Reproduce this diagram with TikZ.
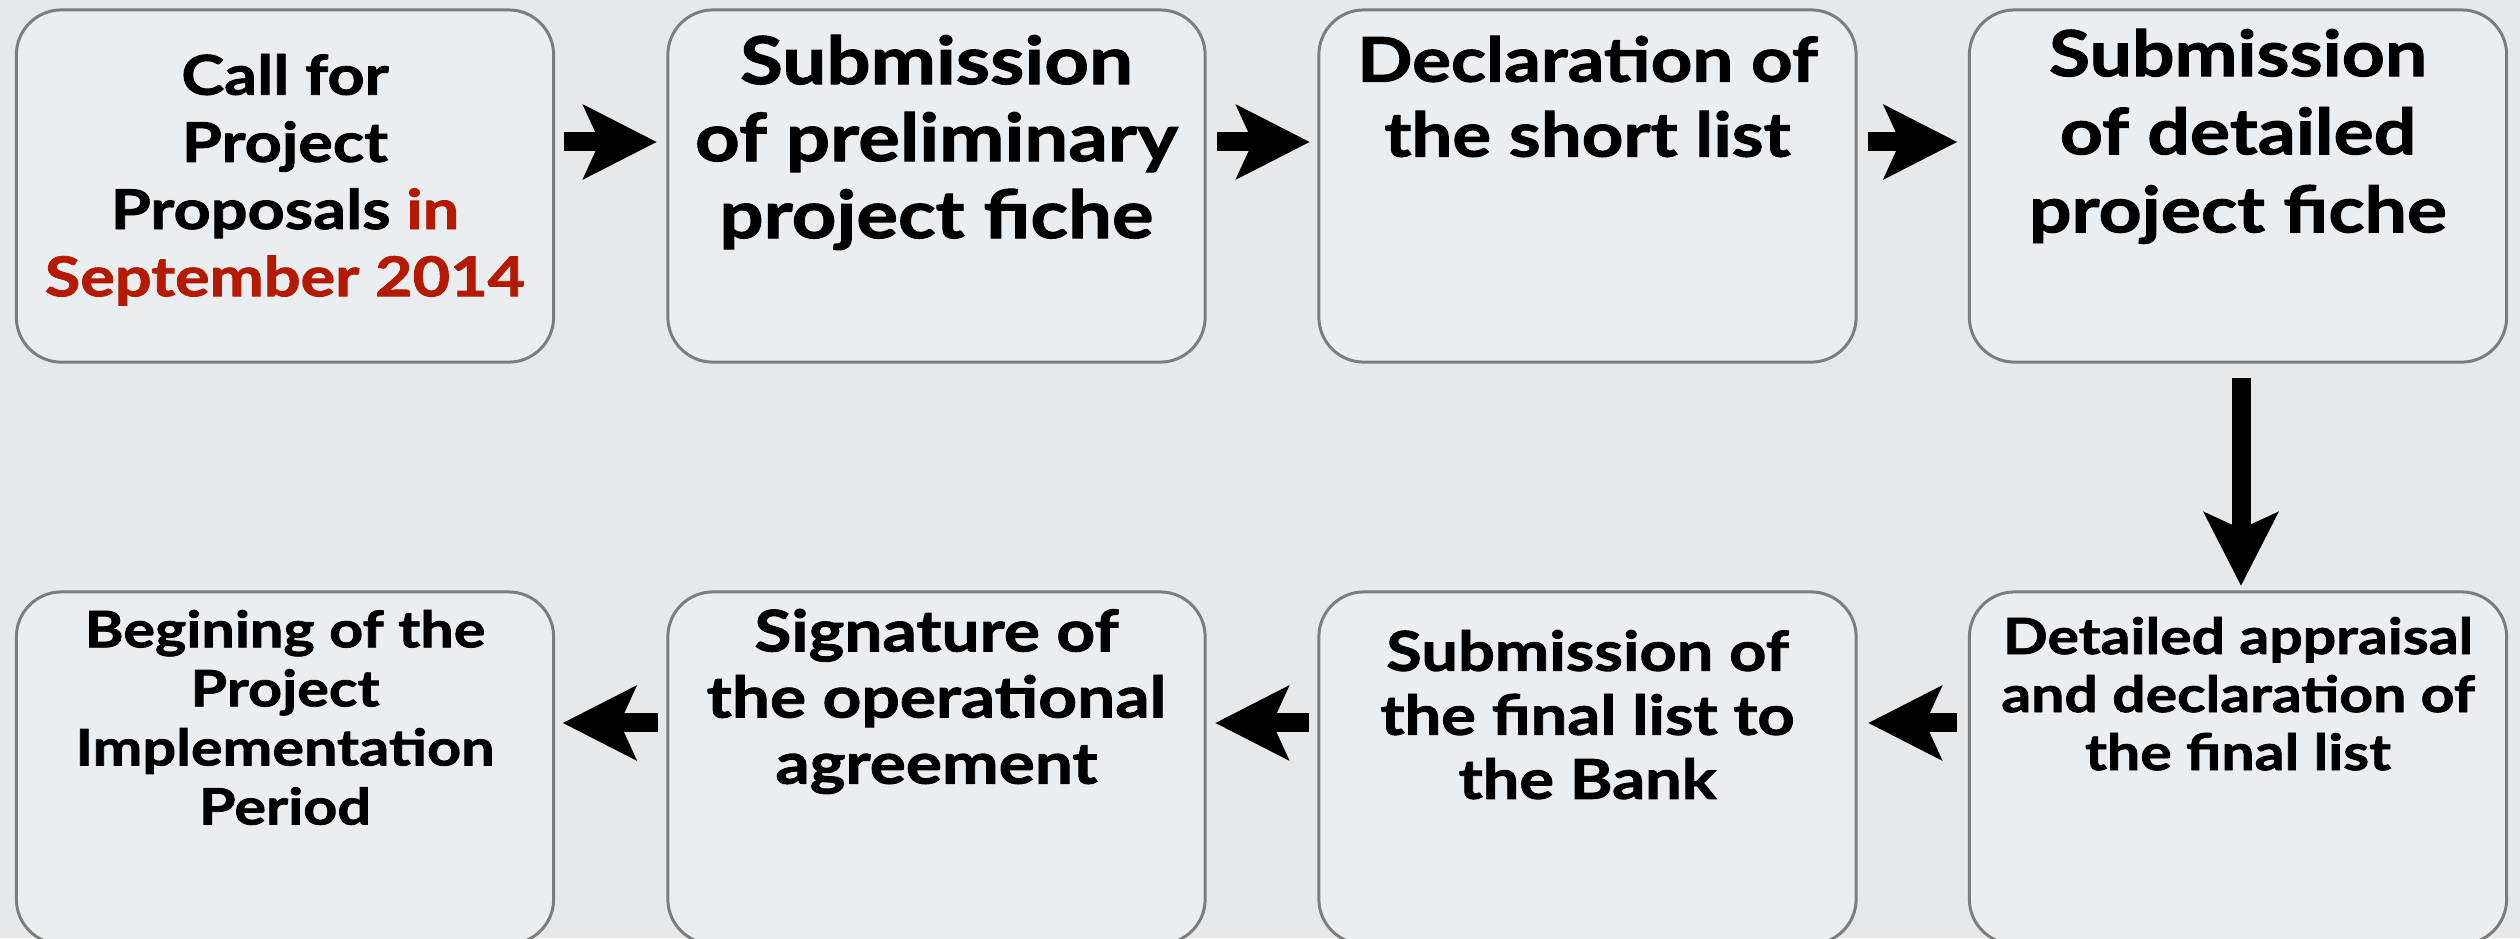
\documentclass[tikz,border=0pt]{standalone}
\usepackage{fontspec}
\setmainfont{Lato}[BoldFeatures={FakeStretch=1.18,FakeBold=1.5}]
\usetikzlibrary{arrows.meta}
\definecolor{bg}{HTML}{E7E8EA}
\definecolor{boxfill}{HTML}{EBEEF1}
\definecolor{boxline}{HTML}{7D7D7D}
\definecolor{accent}{HTML}{B31A00}
\newcommand{\boxtext}[4]{\parbox[c][3.52cm][t]{5.37cm}{\centering\fontsize{#1}{#2}\selectfont\bfseries\vspace*{#3}#4\par}}
\tikzset{
  stepbox/.style={draw=boxline, fill=boxfill, line width=0.03cm, rounded corners=0.45cm,
    minimum width=5.37cm, minimum height=3.52cm, inner sep=0pt, outer sep=0pt},
  flow/.style={line width=0.19cm, -{Stealth[length=0.73cm, width=0.73cm, inset=0.16cm]}},
}
\begin{document}
\begin{tikzpicture}[x=0.01cm, y=-0.01cm]
\useasboundingbox (0,0) rectangle (2520,938);
\fill[bg] (0,0) rectangle (2520,938);
% top row
\node[stepbox] (b1) at (285,186) {\boxtext{15.6pt}{19.1pt}{0.44cm}{Call for\\Project\\Proposals \textcolor{accent}{in}\\\textcolor{accent}{\addfontfeatures{FakeStretch=1.06}September 2014}}};
\node[stepbox] (b2) at (936.5,186) {\boxtext{18.8pt}{21.9pt}{0.25cm}{Submission\\of preliminary\\project fiche}};
\node[stepbox] (b3) at (1587.5,186) {\boxtext{17.5pt}{21.3pt}{0.26cm}{Declaration of\\the short list}};
\node[stepbox] (b4) at (2238,186) {\boxtext{18.1pt}{22.2pt}{0.19cm}{Submission\\of detailed\\project fiche}};
% bottom row
\node[stepbox] (b8) at (2238,768) {\boxtext{14.2pt}{16.5pt}{0.25cm}{Detailed appraisal\\and declaration of\\the final list}};
\node[stepbox] (b7) at (1587.5,768) {\boxtext{15.65pt}{18.2pt}{0.38cm}{Submission of\\the final list to\\the Bank}};
\node[stepbox] (b6) at (936.5,768) {\boxtext{16.3pt}{18.8pt}{0.17cm}{Signature of\\the operational\\agreement}};
\node[stepbox] (b5) at (285,768) {\boxtext{14.3pt}{16.8pt}{0.18cm}{Begining of the\\Project\\Implementation\\Period}};
% connectors
\draw[flow, shorten <=0.10cm, shorten >=0.11cm] ([yshift=-1.32cm]b1.north east) -- ([yshift=-1.32cm]b2.north west);
\draw[flow, shorten <=0.12cm, shorten >=0.09cm] ([yshift=-1.32cm]b2.north east) -- ([yshift=-1.32cm]b3.north west);
\draw[flow, shorten <=0.12cm, shorten >=0.12cm] ([yshift=-1.32cm]b3.north east) -- ([yshift=-1.32cm]b4.north west);
\draw[flow, shorten <=0.16cm, shorten >=0.06cm] ([xshift=0.03cm]b4.south) -- ([xshift=0.03cm]b8.north);
\draw[flow, shorten <=0.12cm, shorten >=0.12cm] ([yshift=-1.31cm]b8.north west) -- ([yshift=-1.31cm]b7.north east);
\draw[flow, shorten <=0.10cm, shorten >=0.10cm] ([yshift=-1.31cm]b7.north west) -- ([yshift=-1.31cm]b6.north east);
\draw[flow, shorten <=0.10cm, shorten >=0.09cm] ([yshift=-1.31cm]b6.north west) -- ([yshift=-1.31cm]b5.north east);
\end{tikzpicture}
\end{document}
